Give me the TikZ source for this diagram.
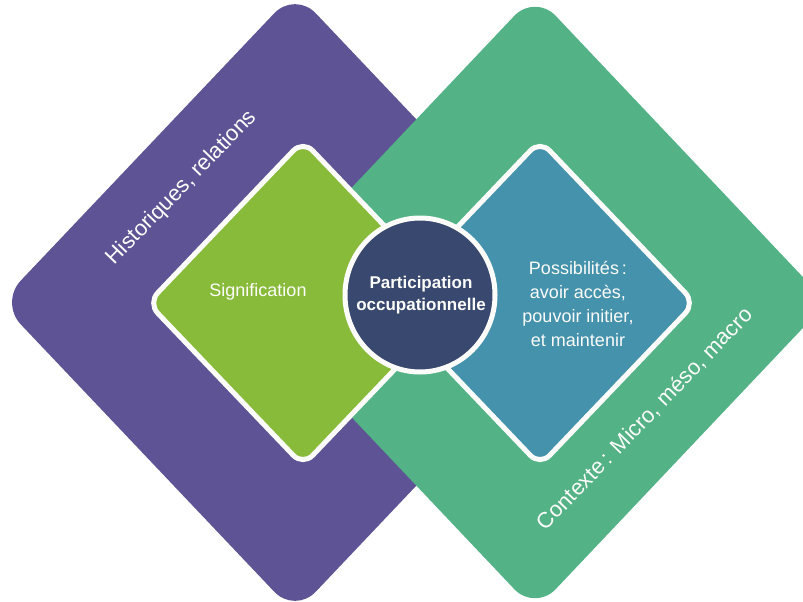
\documentclass[tikz,border=0pt]{standalone}
\usepackage{fontspec}
\setmainfont{Liberation Sans}
\definecolor{purp}{HTML}{5E5394}
\definecolor{bigg}{HTML}{53B286}
\definecolor{lime}{HTML}{89BB3B}
\definecolor{teal}{HTML}{4592AC}
\definecolor{navy}{HTML}{38486E}
\definecolor{offw}{HTML}{FCFCFA}
\tikzset{
  bigdiamond/.style={rounded corners=30pt},
  smalldiamond/.style={draw=offw, line width=5pt, rounded corners=14pt},
  lab/.style={text=offw, inner sep=0pt},
  biglab/.style={lab, font=\fontsize{22}{26}\selectfont, rotate=46},
  midlab/.style={lab, font=\fontsize{18}{24.3}\selectfont, align=center},
  boldlab/.style={lab, font=\bfseries\fontsize{17}{22}\selectfont, align=center}
}
\begin{document}
\begin{tikzpicture}[x=1pt,y={(0pt,-1pt)}]
\useasboundingbox (0,0) rectangle (803,602);
\clip (0,0) rectangle (803,602);
\fill[white] (0,0) rectangle (803,602);
% outer diamonds
\fill[purp, bigdiamond] (295,-8.6) -- (590,302.5) -- (295,613.6) -- (0,302.5) -- cycle;
\fill[bigg, bigdiamond] (535,-6) -- (827,302.5) -- (535,611) -- (243,302.5) -- cycle;
% inner diamonds
\filldraw[fill=lime, smalldiamond] (303,140.5) -- (458,303) -- (303,465.5) -- (148,303) -- cycle;
\filldraw[fill=teal, smalldiamond] (540,140.5) -- (695,303) -- (540,465.5) -- (385,303) -- cycle;
% centre circle
\filldraw[fill=navy, draw=offw, line width=5pt] (420,295) ellipse [x radius=75, y radius=77];
% labels
\node[biglab] (hist) at (182,188) {Historiques, relations};
\node[biglab] (ctx) at (645,419) {Contexte\,: Micro, méso, macro};
\node[midlab] (sig) at (258,292) {Signification};
\node[midlab] (poss) at (578,304) {Possibilités\,:\\avoir accès,\\pouvoir initier,\\et maintenir};
\node[boldlab] (part) at (421,295) {Participation\\occupationnelle};
\end{tikzpicture}
\end{document}
